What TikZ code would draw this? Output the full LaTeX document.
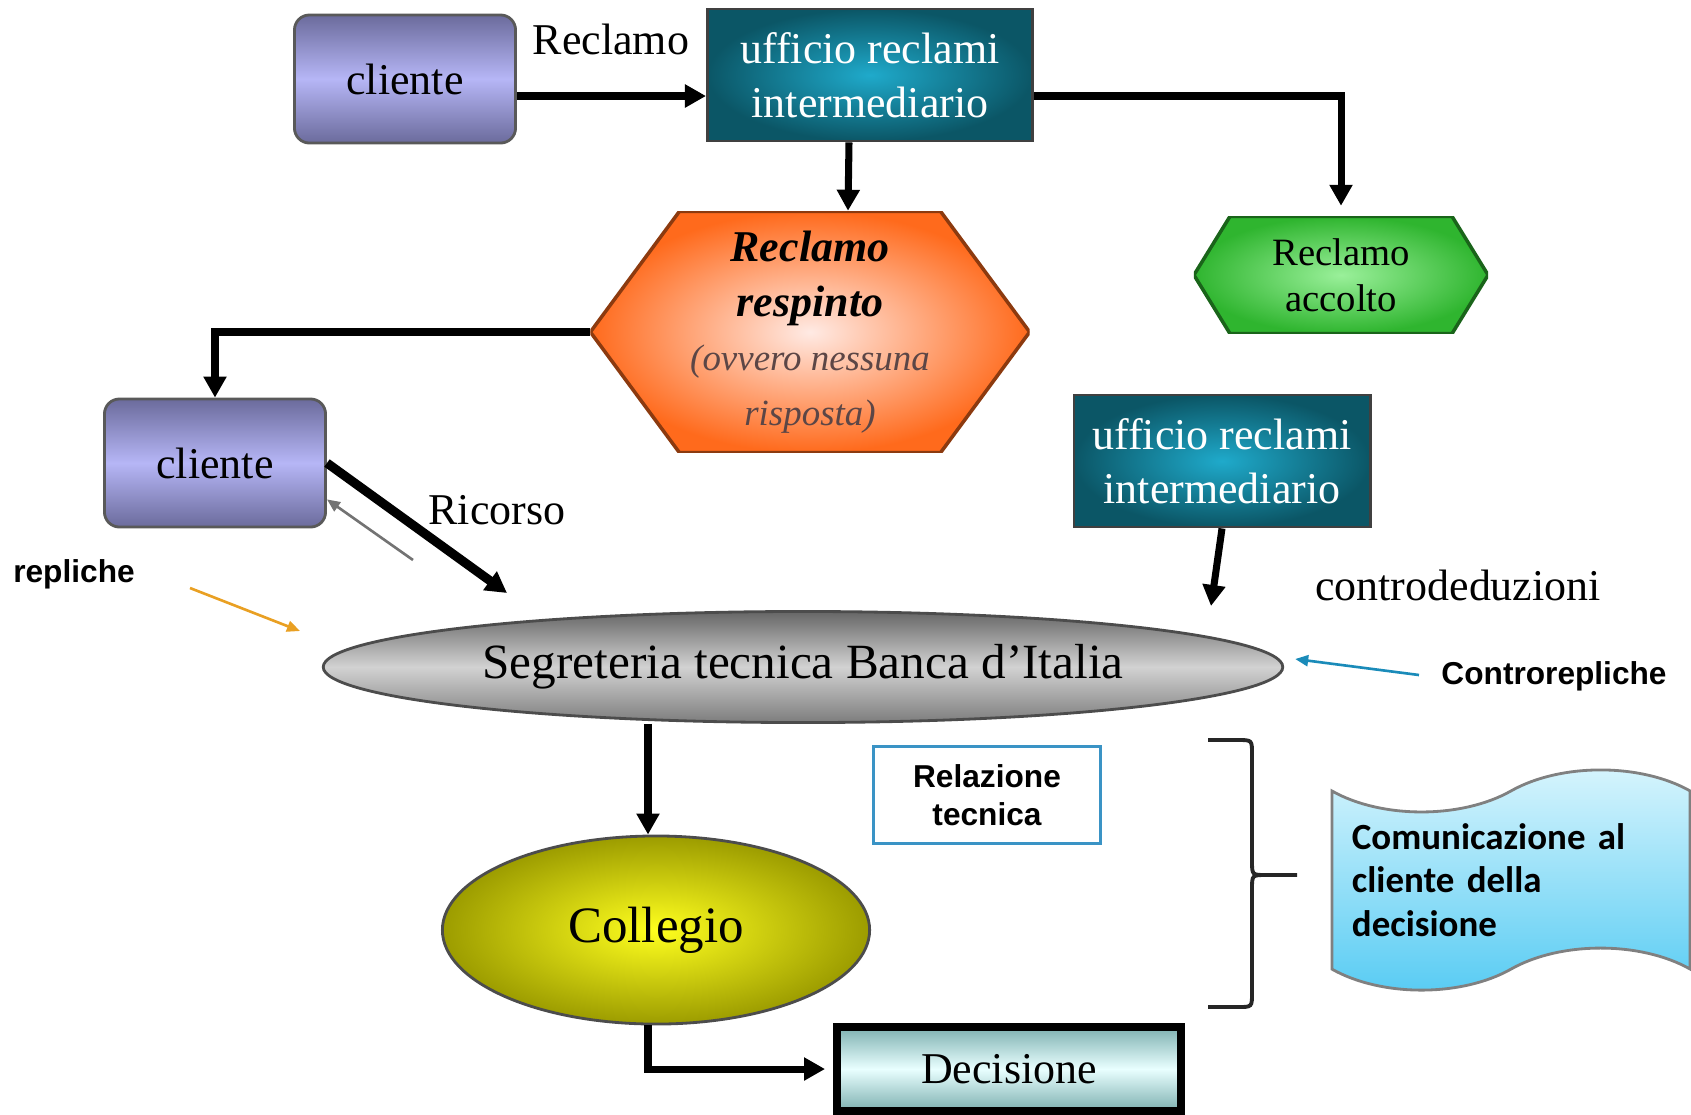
\documentclass[tikz,border=0pt]{standalone}
\usepackage{fontspec}
\setmainfont{Liberation Serif}
\newfontfamily\notesans{Liberation Sans}
\newfontfamily\wavesans{Carlito}
\usepackage{tikz}
\usetikzlibrary{arrows.meta,shapes.geometric,shapes.symbols,calc}

\definecolor{clientedark}{HTML}{6B6B9C}
\definecolor{clientelight}{HTML}{B6B6F6}
\definecolor{ufficiodark}{HTML}{0B5666}
\definecolor{ufficiolight}{HTML}{1FAACB}
\definecolor{respintoout}{HTML}{FF6A1C}
\definecolor{respintoin}{HTML}{FFEAE4}
\definecolor{respintotext}{HTML}{5C4646}
\definecolor{accoltoout}{HTML}{2FB52F}
\definecolor{accoltoin}{HTML}{9AF09A}
\definecolor{segreteriadark}{HTML}{666666}
\definecolor{segreterialight}{HTML}{D2D2D2}
\definecolor{collegioout}{HTML}{9C9C00}
\definecolor{collegioin}{HTML}{FFFF1E}
\definecolor{decisionedark}{HTML}{7DB0B0}
\definecolor{decisionelight}{HTML}{E9FFFF}
\definecolor{replicheorange}{HTML}{E9A023}
\definecolor{controblu}{HTML}{1A8BB9}
\definecolor{relazioneblu}{HTML}{3A93C5}
\definecolor{ondatop}{HTML}{D8F5FD}
\definecolor{ondabottom}{HTML}{56CBF3}

\tikzset{
every picture/.style={x=0.01cm, y=-0.01cm},
serif/.style={font=\fontsize{12.5}{15.5}\selectfont, align=center, inner sep=0pt},
clientebox/.style={serif, rounded corners=0.15cm, draw=black!65, line width=0.8pt,
  top color=clientedark, bottom color=clientedark, middle color=clientelight,
  minimum width=2.21cm, minimum height=1.28cm},
ufficiobox/.style={serif, text=white, draw=black!75, line width=0.8pt,
  shading=radial, inner color=ufficiolight, outer color=ufficiodark,
  minimum width=2.96cm, minimum height=1.32cm},
hexnode/.style n args={3}{serif, path picture={
  \shade[draw=#3!55!black, line width=1pt, inner color=#2, outer color=#3]
    (path picture bounding box.west)
    -- ($(path picture bounding box.north west)+(#1,0)$)
    -- ($(path picture bounding box.north east)+(-#1,0)$)
    -- (path picture bounding box.east)
    -- ($(path picture bounding box.south east)+(-#1,0)$)
    -- ($(path picture bounding box.south west)+(#1,0)$) -- cycle;}},
flowarrow/.style={-{Triangle[length=0.21cm,width=0.22cm]}, line width=2pt},
notearrow/.style={-{Triangle[length=0.13cm,width=0.11cm]}, line width=0.75pt},
notelabel/.style={font=\notesans\bfseries\fontsize{9}{10.7}\selectfont, align=center, inner sep=1pt}
}

\begin{document}
\begin{tikzpicture}
\useasboundingbox (0,0) rectangle (1691,1114);

% top row
\node[clientebox] (clienteA) at (405,79) {cliente};
\node[ufficiobox, minimum width=3.25cm] (ufficioA) at (870,75) {ufficio reclami\\intermediario};
\node[serif] (lblreclamo) at (611,39) {Reclamo};
\coordinate (topline) at (0,96);

% esiti del reclamo
\node[hexnode={89}{respintoin}{respintoout}, minimum width=4.39cm, minimum height=2.41cm] (respinto) at (810,332)
  {\textbf{\textit{Reclamo}}\\\textbf{\textit{respinto}}\\
   {\color{respintotext}\fontsize{10.5}{15.5}\selectfont\itshape (ovvero nessuna}\\
   {\color{respintotext}\fontsize{10.5}{15.5}\selectfont\itshape risposta)}};
\node[hexnode={36}{accoltoin}{accoltoout}, font=\fontsize{11}{13}\selectfont,
  minimum width=2.94cm, minimum height=1.17cm] (accolto) at (1341,275) {Reclamo\\accolto};

% ricorso
\node[clientebox] (clienteB) at (215,463) {cliente};
\node[ufficiobox] (ufficioB) at (1222,461) {ufficio reclami\\intermediario};
\node[serif] (lblricorso) at (497,510) {Ricorso};
\node[serif] (lblcontrodeduzioni) at (1458,585) {controdeduzioni};
\node[notelabel] (lblrepliche) at (74,574) {repliche};
\node[notelabel] (lblcontrorepliche) at (1554,676) {Controrepliche};

\node[serif, ellipse, draw=black!70, line width=0.8pt,
  top color=segreteriadark, bottom color=segreteriadark!85, middle color=segreterialight,
  minimum width=9.59cm, minimum height=1.11cm, font=\fontsize{14}{16}\selectfont]
  (segreteria) at (803,667) {Segreteria tecnica Banca d’Italia};

% decisione
\node[serif, ellipse, draw=black!70, line width=0.8pt,
  shading=radial, inner color=collegioin, outer color=collegioout,
  minimum width=4.27cm, minimum height=1.88cm, font=\fontsize{14.5}{16}\selectfont]
  (collegio) at (656,930) {Collegio};
\node[notelabel, draw=relazioneblu, line width=1pt, minimum width=2.27cm, minimum height=0.97cm]
  (relazione) at (987,795) {Relazione\\tecnica};
\node[serif, draw=black, line width=2.2pt,
  top color=decisionedark, bottom color=decisionedark, middle color=decisionelight,
  minimum width=3.44cm, minimum height=0.84cm] (decisione) at (1009,1069) {Decisione};
\node[tape, draw=black!50, line width=0.8pt, top color=ondatop, bottom color=ondabottom,
  tape bend height=0.42cm, minimum width=3.58cm, minimum height=2.0cm,
  text width=3.18cm, inner xsep=0.2cm, align=left,
  font=\wavesans\bfseries\fontsize{10.5}{12.3}\selectfont]
  (comunicazione) at (1511,880) {Comunicazione al\\cliente della\\decisione};

\coordinate (ricorsoend) at (507,593);
\coordinate (deduzioniend) at (1211,606);
\coordinate (grigiostart) at (413,560);
\coordinate (repstart) at (190,588);
\coordinate (repend) at (300,631);
\coordinate (controstart) at (1419,675);

\draw[flowarrow] (clienteA.east |- topline) -- (ufficioA.west |- topline);
\draw[flowarrow, shorten >=0.1cm] (ufficioA.east |- topline) -| (accolto.north);
\draw[flowarrow] ($(ufficioA.south)+(-21,0)$) -- ($(respinto.north)+(38,0)$);
\draw[flowarrow] (respinto.west) -| (clienteB.north);
\draw[flowarrow, line width=2.6pt] (clienteB.east) -- (ricorsoend);
\draw[notearrow, black!55] (grigiostart) -- (clienteB.-18);
\draw[notearrow, replicheorange] (repstart) -- (repend);
\draw[notearrow, controblu] (controstart) -- ($(segreteria.east)+(11,-8)$);
\draw[flowarrow] (ufficioB.south) -- (deduzioniend);
\draw[flowarrow] ($(segreteria.south -| collegio.north)+(-8,0)$) -- ($(collegio.north)+(-8,0)$);
\draw[flowarrow, shorten >=0.08cm] ($(collegio.south)+(-8,0)$) |- (decisione.west);

% graffa
\draw[line width=1.1pt, black!85] (1208,740) -- (1238,740) .. controls (1252,740) .. (1252,754)
  -- (1252,861) .. controls (1252,875) .. (1266,875) -- (1297,875)
  (1266,875) .. controls (1252,875) .. (1252,889) -- (1252,993)
  .. controls (1252,1007) .. (1238,1007) -- (1208,1007);
\end{tikzpicture}
\end{document}
